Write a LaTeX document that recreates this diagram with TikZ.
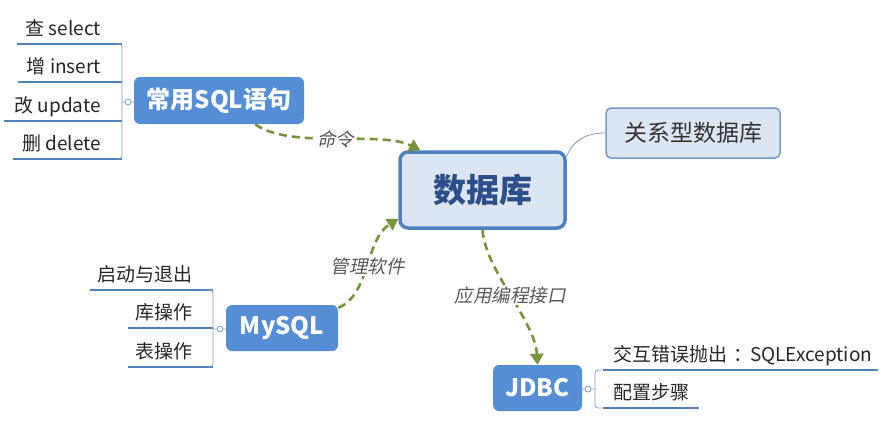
\documentclass[tikz,border=0pt]{standalone}
\usepackage{fontspec}
\setmainfont{Noto Sans CJK SC}
\newfontfamily\slantfont[FakeSlant=0.2]{Noto Sans CJK SC}
\usetikzlibrary{arrows.meta}
\definecolor{topicblue}{RGB}{85,142,213}
\definecolor{rootfill}{RGB}{220,230,242}
\definecolor{rootline}{RGB}{79,129,189}
\definecolor{roottext}{RGB}{44,78,138}
\definecolor{thinblue}{RGB}{120,155,205}
\definecolor{olive}{RGB}{119,147,60}
\definecolor{labgray}{RGB}{89,89,89}

\begin{document}
\begin{tikzpicture}[x=1pt,y=-1pt,
    topic/.style={fill=topicblue, rounded corners=6pt, inner sep=0pt, text=white,
        font=\fontsize{24}{28}\selectfont\bfseries},
    leaf/.style={inner sep=0pt, text=black!85, font=\fontsize{19}{22}\selectfont},
    uline/.style={rootline, line width=2.5pt},
    brace/.style={thinblue, line width=0.8pt},
    knob/.style={circle, draw=thinblue, fill=white, line width=0.8pt, inner sep=0pt, minimum size=6pt},
    dasharrow/.style={olive, line width=2.6pt, dash pattern=on 8pt off 5pt,
        -{Triangle[length=11pt,width=13pt]}},
    lab/.style={fill=white, inner sep=1pt, text=labgray, font=\slantfont\fontsize{18.5}{21}\selectfont}]
    \useasboundingbox (0,0) rectangle (886,431);
    % Central topic and its neighbours
    \node[draw=rootline, fill=rootfill, line width=3.5pt, rounded corners=8pt,
        minimum width=165pt, minimum height=76pt, text=roottext,
        font=\fontsize{33}{36}\selectfont\bfseries] (db) at (482.5,190) {数据库};
    \node[draw=thinblue, fill=rootfill, line width=1.5pt, rounded corners=5pt,
        minimum width=174pt, minimum height=50pt, text=black!80,
        font=\fontsize{23}{26}\selectfont] (rel) at (693,133) {关系型数据库};
    \draw[brace] ([yshift=-6pt]db.north east) to[out=70,in=180] (rel.west);
    \node[topic, minimum width=170pt, minimum height=47pt] (sql) at (219,100.5) {常用SQL语句};
    \node[topic, minimum width=112pt, minimum height=46pt] (mysql) at (282,328) {MySQL};
    \node[topic, minimum width=89pt, minimum height=46pt] (jdbc) at (537.5,388) {JDBC};
    % SQL statements
    \foreach \t/\x/\y [count=\i] in {查 select/17/44, 增 insert/18/82, 改 update/4/121, 删 delete/13/159} {
        \node[leaf, anchor=base east] (q\i) at (101,\y-9) {\t};
        \draw[uline] (\x,\y) -- (122,\y);
    }
    \draw[brace, rounded corners=3pt] (115,44) -- (122,44) -- (122,159) -- (115,159);
    \coordinate (qb) at (122,102);
    \node[knob] (qk) at (128,102) {};
    \draw[brace] (qb) -- (qk) -- (sql);
    % MySQL items
    \foreach \t/\x/\y [count=\i] in {启动与退出/90/290, 库操作/128/328, 表操作/128/367} {
        \node[leaf, anchor=base east] (m\i) at (193,\y-9) {\t};
        \draw[uline] (\x,\y) -- (213,\y);
    }
    \draw[brace, rounded corners=3pt] (206,290) -- (213,290) -- (213,367) -- (206,367);
    \coordinate (mb) at (213,329);
    \node[knob] (mk) at (220,329) {};
    \draw[brace] (mb) -- (mk) -- (mysql);
    % JDBC items
    \foreach \t/\w/\y [count=\i] in {交互错误抛出\hspace{6pt}：\hspace{-2pt}SQLException/275/370, 配置步骤/96/408} {
        \node[leaf, anchor=base west] (j\i) at (613,\y-9) {\t};
        \draw[uline] (603,\y) -- +(\w,0);
    }
    \draw[brace, rounded corners=3pt] (602,370) -- (595,370) -- (595,408) -- (602,408);
    \coordinate (jb) at (595,389);
    \node[knob] (jk) at (588,389) {};
    \draw[brace] (jdbc) -- (jk) -- (jb);
    % Dashed relations
    \draw[dasharrow] ([xshift=-49pt]sql.south east) .. controls (290,150) and (380,130) ..
        ([xshift=22pt]db.north west) node[lab, pos=0.5] {命令};
    \draw[dasharrow] ([yshift=-3pt]mysql.north east) .. controls (370,295) and (365,240) ..
        ([yshift=11pt]db.south west) node[lab, pos=0.5] {管理软件};
    \draw[dasharrow] (db.south) .. controls (485,270) and (535,320) ..
        (jdbc.north) node[lab, pos=0.5] {应用编程接口};
\end{tikzpicture}
\end{document}
